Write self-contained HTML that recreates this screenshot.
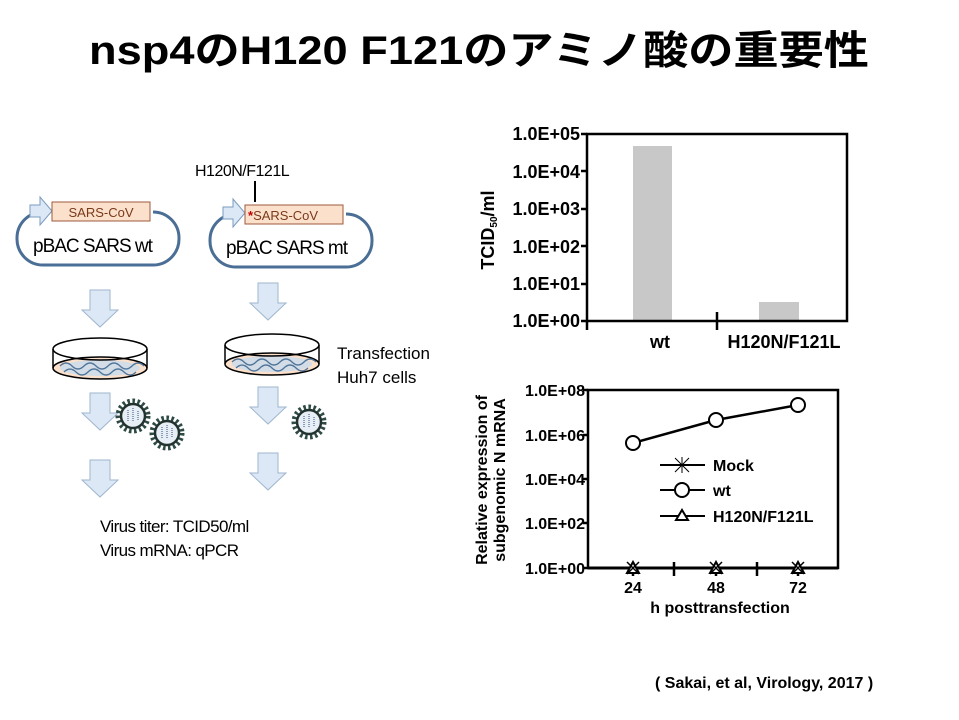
<!DOCTYPE html>
<html><head><meta charset="utf-8"><style>
html,body{margin:0;padding:0;background:#fff}
svg{display:block}
text{font-family:"Liberation Sans","Noto Sans CJK JP",sans-serif}
</style></head><body>
<svg width="959" height="720" viewBox="0 0 959 720" xmlns="http://www.w3.org/2000/svg">
<defs>
<g id="arr"><path d="M-10,0 H10 V20 H18 L0,37 L-18,20 H-10 Z" fill="#dce8f5" stroke="#9fb6cf" stroke-width="1"/></g>
<g id="dish">
<ellipse cx="0" cy="19" rx="47" ry="11" fill="#fbe0cc" stroke="#000" stroke-width="1.5"/>
<ellipse cx="0" cy="19" rx="40" ry="8" fill="#c9dcee" opacity="0.8"/>
<path d="M-40,17 q6,-6 12,0 q6,6 12,0 q6,-6 12,0 q6,6 12,0 q6,-6 12,0 q6,6 12,0 q6,-6 12,0" fill="none" stroke="#4f7499" stroke-width="1.3"/>
<path d="M-36,23 q6,-6 12,0 q6,6 12,0 q6,-6 12,0 q6,6 12,0 q6,-6 12,0 q6,6 12,0" fill="none" stroke="#4f7499" stroke-width="1.3"/>
<ellipse cx="0" cy="0" rx="47" ry="11" fill="none" stroke="#000" stroke-width="1.5"/>
<line x1="-47" y1="0" x2="-47" y2="19" stroke="#000" stroke-width="1.5"/>
<line x1="47" y1="0" x2="47" y2="19" stroke="#000" stroke-width="1.5"/>
</g>
<g id="vir">
<circle r="15" fill="none" stroke="#2d4a45" stroke-width="5" stroke-dasharray="2.5 2.5"/>
<circle r="12" fill="#e8eef5" stroke="#22332f" stroke-width="2.5"/>
<path d="M-5,-6 v12 M0,-8 v14 M5,-5 v10" stroke="#8aa0b8" stroke-width="2" stroke-dasharray="1 1"/>
</g>
</defs>

<text x="479" y="64" text-anchor="middle" font-size="40" font-weight="bold" textLength="780" lengthAdjust="spacingAndGlyphs">nsp4のH120 F121のアミノ酸の重要性</text>

<!-- plasmid 1 -->
<rect x="17" y="212" width="162" height="53" rx="26" fill="#fff" stroke="#4a6e95" stroke-width="3"/>
<rect x="45" y="200" width="108" height="18" fill="#fff"/>
<path d="M30,205 H40 V197 L52,211 L40,225 V217 H30 Z" fill="#dce8f5" stroke="#7a9cc0"/>
<rect x="52" y="202" width="98" height="19" fill="#fbe0cc" stroke="#9c5a3c"/>
<text x="101" y="217" text-anchor="middle" font-size="13" fill="#7a3a1a">SARS-CoV</text>
<text x="33" y="252" font-size="19" letter-spacing="-1">pBAC SARS wt</text>

<!-- plasmid 2 -->
<text x="195" y="176" font-size="16" letter-spacing="-0.5">H120N/F121L</text>
<line x1="255" y1="181" x2="255" y2="204" stroke="#000" stroke-width="2"/>
<rect x="210" y="214" width="162" height="53" rx="26" fill="#fff" stroke="#4a6e95" stroke-width="3"/>
<rect x="238" y="202" width="108" height="18" fill="#fff"/>
<path d="M223,207 H233 V199 L245,213 L233,227 V219 H223 Z" fill="#dce8f5" stroke="#7a9cc0"/>
<rect x="245" y="205" width="98" height="19" fill="#fbe0cc" stroke="#9c5a3c"/>
<text x="248" y="220" font-size="13" fill="#7a3a1a"><tspan fill="#c00000" font-weight="bold">*</tspan>SARS-CoV</text>
<text x="226" y="254" font-size="19" letter-spacing="-1">pBAC SARS mt</text>

<use href="#arr" x="100" y="290"/>
<use href="#arr" x="268" y="283"/>
<use href="#dish" x="100" y="349"/>
<use href="#dish" x="272" y="345"/>
<text x="337" y="359" font-size="17">Transfection</text>
<text x="337" y="383" font-size="17">Huh7 cells</text>
<use href="#arr" x="100" y="393"/>
<use href="#arr" x="268" y="387"/>
<use href="#vir" x="133" y="416"/>
<use href="#vir" x="167" y="433"/>
<use href="#vir" x="309" y="422"/>
<use href="#arr" x="100" y="460"/>
<use href="#arr" x="268" y="453"/>
<text x="100" y="532" font-size="17" letter-spacing="-0.6">Virus titer: TCID50/ml</text>
<text x="100" y="556" font-size="17" letter-spacing="-0.6">Virus mRNA: qPCR</text>

<!-- chart 1 -->
<g font-weight="bold" font-size="18" text-anchor="end">
<text x="580" y="140">1.0E+05</text>
<text x="580" y="178">1.0E+04</text>
<text x="580" y="215">1.0E+03</text>
<text x="580" y="253">1.0E+02</text>
<text x="580" y="290">1.0E+01</text>
<text x="580" y="327">1.0E+00</text>
</g>
<rect x="633" y="146" width="39" height="175" fill="#c8c8c8"/>
<rect x="759" y="302" width="40" height="19" fill="#c8c8c8"/>
<rect x="587" y="134" width="260" height="187" fill="none" stroke="#000" stroke-width="2.5"/>
<g stroke="#000" stroke-width="2.5">
<line x1="581" y1="134" x2="587" y2="134"/><line x1="581" y1="171" x2="587" y2="171"/><line x1="581" y1="209" x2="587" y2="209"/><line x1="581" y1="246" x2="587" y2="246"/><line x1="581" y1="284" x2="587" y2="284"/><line x1="581" y1="321" x2="587" y2="321"/>
<line x1="587" y1="321" x2="587" y2="330"/><line x1="717" y1="312" x2="717" y2="330"/>
</g>
<text x="660" y="348" text-anchor="middle" font-weight="bold" font-size="18">wt</text>
<text x="784" y="348" text-anchor="middle" font-weight="bold" font-size="18">H120N/F121L</text>
<text transform="translate(494,230) rotate(-90)" text-anchor="middle" font-weight="bold" font-size="18">TCID<tspan font-size="10" dy="3">50</tspan><tspan dy="-3">/ml</tspan></text>

<!-- chart 2 -->
<g font-weight="bold" font-size="16" text-anchor="end">
<text x="585" y="396">1.0E+08</text>
<text x="585" y="441">1.0E+06</text>
<text x="585" y="485">1.0E+04</text>
<text x="585" y="529">1.0E+02</text>
<text x="585" y="574">1.0E+00</text>
</g>
<rect x="588" y="390" width="250" height="178" fill="none" stroke="#000" stroke-width="2.5"/>
<g stroke="#000" stroke-width="2.5">
<line x1="583" y1="390" x2="588" y2="390"/><line x1="583" y1="435" x2="588" y2="435"/><line x1="583" y1="479" x2="588" y2="479"/><line x1="583" y1="523" x2="588" y2="523"/><line x1="583" y1="568" x2="588" y2="568"/>
<line x1="633" y1="562" x2="633" y2="576"/><line x1="674" y1="562" x2="674" y2="576"/><line x1="716" y1="562" x2="716" y2="576"/><line x1="757" y1="562" x2="757" y2="576"/><line x1="798" y1="562" x2="798" y2="576"/>
<polyline points="633,443 716,420 798,405" fill="none"/>
<line x1="588" y1="568" x2="838" y2="568" stroke-width="3"/>
</g>
<g fill="#fff" stroke="#000" stroke-width="2">
<circle cx="633" cy="443" r="7"/><circle cx="716" cy="420" r="7"/><circle cx="798" cy="405" r="7"/>
<path d="M627,573 L633,562 L639,573 Z"/><path d="M710,573 L716,562 L722,573 Z"/><path d="M792,573 L798,562 L804,573 Z"/>
<path d="M627,562 l12,12 M639,562 l-12,12 M710,562 l12,12 M722,562 l-12,12 M792,562 l12,12 M804,562 l-12,12" stroke-width="1.5"/>
</g>
<g stroke="#000" stroke-width="2">
<line x1="660" y1="465" x2="705" y2="465"/>
<path d="M675,458 l14,14 M689,458 l-14,14 M682,457 v16" stroke-width="1"/>
<line x1="660" y1="490" x2="705" y2="490"/>
<circle cx="682" cy="490" r="7" fill="#fff"/>
<line x1="660" y1="516" x2="705" y2="516"/>
<path d="M676,520 L682,510 L688,520 Z" fill="#fff"/>
</g>
<g font-weight="bold" font-size="16">
<text x="713" y="471">Mock</text>
<text x="713" y="496">wt</text>
<text x="713" y="522">H120N/F121L</text>
</g>
<g font-weight="bold" font-size="16" text-anchor="middle">
<text x="633" y="593">24</text><text x="716" y="593">48</text><text x="798" y="593">72</text>
<text x="720" y="613">h posttransfection</text>
</g>
<text transform="translate(487,480) rotate(-90)" text-anchor="middle" font-weight="bold" font-size="16">Relative expression of</text>
<text transform="translate(505,480) rotate(-90)" text-anchor="middle" font-weight="bold" font-size="16">subgenomic N mRNA</text>

<text x="655" y="688" font-weight="bold" font-size="16">( Sakai, et al, Virology, 2017 )</text>
</svg>
</body></html>
